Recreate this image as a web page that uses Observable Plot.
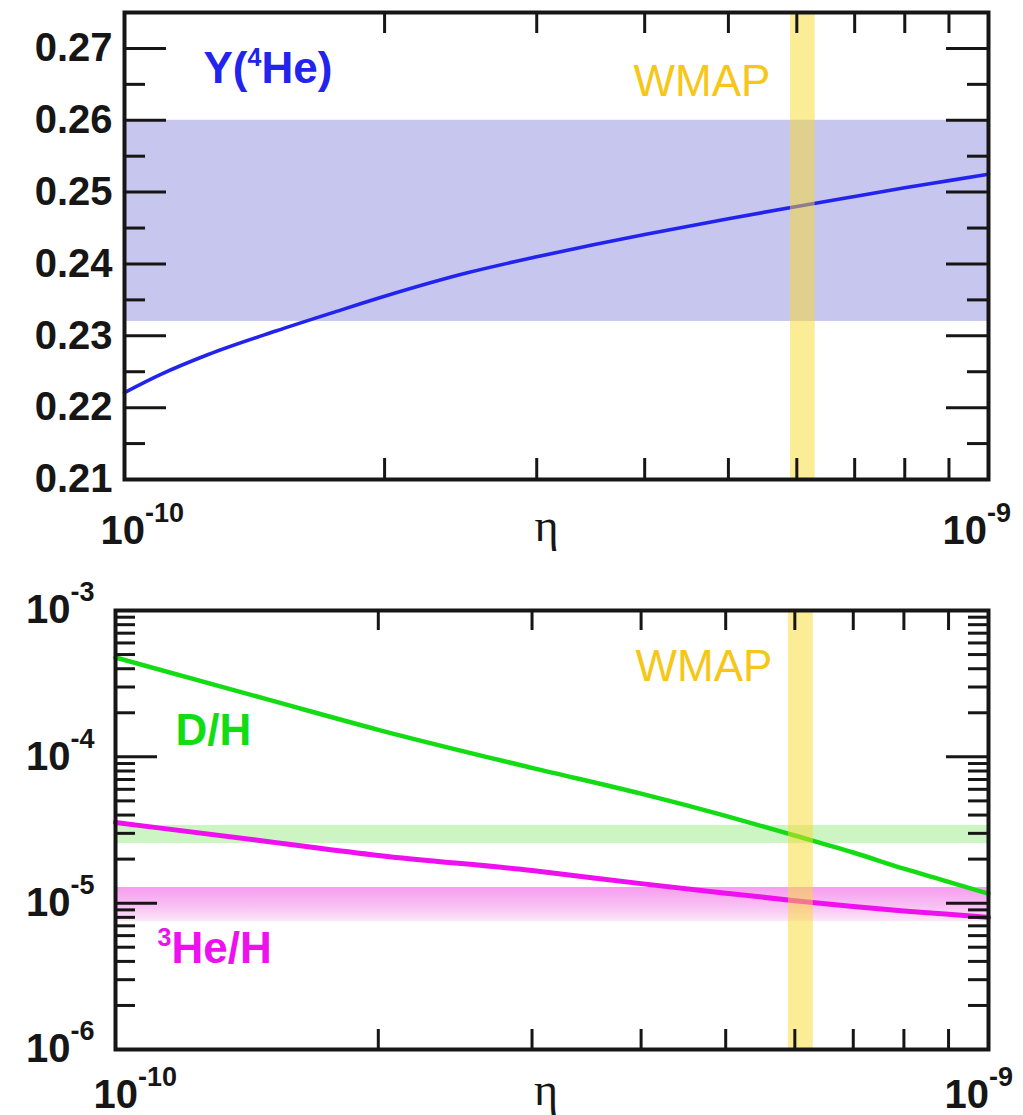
<!DOCTYPE html>
<html>
<head>
<meta charset="utf-8">
<script src="https://cdn.jsdelivr.net/npm/d3@7"></script>
<script src="https://cdn.jsdelivr.net/npm/@observablehq/plot@0.6"></script>
<style>
  html, body { margin: 0; padding: 0; background: #fff; }
  #chart { width: 1023px; }
  #chart svg { display: block; }
</style>
</head>
<body>
<div id="chart"></div>
<script>
// ---------------- data ----------------
const etaDomain = [1e-10, 1e-9];
const he4Domain = [0.21, 0.275];
const abundDomain = [1e-6, 1e-3];

// Top panel: Y(4He) vs eta
const etaTop = [1.0e-10, 1.1e-10, 1.25e-10, 1.5e-10, 1.75e-10, 2e-10, 2.5e-10, 3e-10, 3.5e-10, 4e-10, 5e-10, 6e-10, 7e-10, 8e-10, 9e-10, 1e-9];
const yHe4   = [0.2221, 0.2246, 0.2274, 0.2307, 0.2333, 0.2355, 0.2388, 0.2410, 0.2427, 0.2441, 0.2463, 0.2480, 0.2494, 0.2506, 0.2516, 0.2525];

// Bottom panel: D/H and 3He/H vs eta
const etaBottom = [1e-10, 1.5e-10, 2e-10, 3e-10, 4e-10, 5e-10, 6e-10, 7e-10, 8e-10, 9e-10, 1e-9];
const dH   = [4.77e-4, 2.45e-4, 1.53e-4, 8.4e-5, 5.6e-5, 3.95e-5, 2.9e-5, 2.22e-5, 1.72e-5, 1.4e-5, 1.16e-5];
const he3H = [3.56e-5, 2.63e-5, 2.12e-5, 1.67e-5, 1.36e-5, 1.17e-5, 1.04e-5, 9.5e-6, 8.85e-6, 8.4e-6, 7.98e-6];

// observational bands
const he4Band  = [0.232, 0.260];
const dBand    = [2.55e-5, 3.4e-5];
const he3Band  = [7.5e-6, 1.28e-5];
const wmapBand = [5.9e-10, 6.3e-10];

// ticks & labels
const he4Major = [0.21, 0.22, 0.23, 0.24, 0.25, 0.26, 0.27];
const he4Minor = [0.215, 0.225, 0.235, 0.245, 0.255, 0.265];
const etaLabelsLeft  = [{eta: 1e-10, label: "10^{-10}"}];
const etaLabelsRight = [{eta: 1e-9,  label: "10^{-9}"}];
const abundMajor = [1e-6, 1e-5, 1e-4, 1e-3];
const abundLabels = ["10^{-6}", "10^{-5}", "10^{-4}", "10^{-3}"];

// ---------------- styles ----------------
const INK = "#161616";
const BLUE = "#2323ee", GREEN = "#14dc14", MAGENTA = "#ee10ee", GOLD = "#f6c718";
const BAND_BLUE = "#c6c6ee", BAND_GREEN = "#cdf5c3", WMAP_FILL = "#f9d92c";
const SANS = "'Liberation Sans', Arial, Helvetica, sans-serif";
const W = 1023;

const etaTicks = d3.scaleLog().domain(etaDomain).ticks().filter(t => t > etaDomain[0] * 1.01 && t < etaDomain[1] * 0.99);
const abundTicksAll = d3.scaleLog().domain(abundDomain).ticks();
const abundMinor = abundTicksAll.filter(t => !abundMajor.some(m => Math.abs(t / m - 1) < 1e-6));

function tickMarks(innerW, innerH, majorY, minorY, majorLen, minorLen) {
  const s = {stroke: INK, strokeWidth: 3};
  return [
    Plot.tickY(majorY, {y: d => d, insetRight: innerW - majorLen, ...s}),
    Plot.tickY(majorY, {y: d => d, insetLeft: innerW - majorLen, ...s}),
    Plot.tickY(minorY, {y: d => d, insetRight: innerW - minorLen, ...s}),
    Plot.tickY(minorY, {y: d => d, insetLeft: innerW - minorLen, ...s}),
    Plot.tickX(etaTicks, {x: d => d, insetBottom: innerH - minorLen, ...s}),
    Plot.tickX(etaTicks, {x: d => d, insetTop: innerH - minorLen, ...s})
  ];
}

// turn "a^{b}c" into tspans with a raised, smaller b
function applySup(svg) {
  d3.select(svg).selectAll("text").each(function () {
    const s = this.textContent;
    if (!s.includes("^{")) return;
    const big = this.closest("g") && parseFloat(this.closest("g").getAttribute("font-size")) >= 42;
    const supSize = big ? 25 : 27;
    const raise = big ? 17 : 22;
    const el = d3.select(this);
    el.text(null);
    const parts = s.split(/\^\{([^}]*)\}/);
    let up = false;
    parts.forEach((p, i) => {
      const sup = i % 2 === 1;
      if (p === "") return;
      const t = el.append("tspan").text(p);
      if (sup) {
        t.attr("font-size", supSize);
        if (!up) { t.attr("dy", -raise); up = true; }
      } else if (up) {
        t.attr("dy", raise); up = false;
      }
    });
  });
}

// ---------------- top panel ----------------
const T = {h: 555, ml: 124, mr: 35, mt: 12, mb: 76};
const tW = W - T.ml - T.mr, tH = T.h - T.mt - T.mb;

const topPlot = Plot.plot({
  width: W, height: T.h,
  marginLeft: T.ml, marginRight: T.mr, marginTop: T.mt, marginBottom: T.mb,
  x: {type: "log", domain: etaDomain, axis: null},
  y: {domain: he4Domain, axis: null},
  style: {fontFamily: SANS, background: "white", color: INK},
  marks: [
    Plot.rect([he4Band], {y1: d => d[0], y2: d => d[1], fill: BAND_BLUE}),
    Plot.line(etaTop.map((e, i) => ({eta: e, v: yHe4[i]})), {x: "eta", y: "v", stroke: BLUE, strokeWidth: 3.6, curve: "monotone-x"}),
    Plot.rect([wmapBand], {x1: d => d[0], x2: d => d[1], fill: WMAP_FILL, fillOpacity: 0.5}),
    ...tickMarks(tW, tH, he4Major, he4Minor, 42, 21),
    Plot.frame({stroke: INK, strokeWidth: 4}),
    Plot.text(he4Major, {y: d => d, frameAnchor: "left", textAnchor: "end", dx: -12, text: d => d.toFixed(2), fontSize: 40, fontWeight: "bold", fill: INK}),
    Plot.text(etaLabelsLeft, {x: "eta", frameAnchor: "bottom", textAnchor: "start", lineAnchor: "bottom", dx: -24, dy: 64, text: "label", fontSize: 40, fontWeight: "bold", fill: INK}),
    Plot.text(etaLabelsRight, {x: "eta", frameAnchor: "bottom", textAnchor: "start", lineAnchor: "bottom", dx: -46, dy: 64, text: "label", fontSize: 40, fontWeight: "bold", fill: INK}),
    Plot.text(["η"], {frameAnchor: "bottom", textAnchor: "middle", lineAnchor: "bottom", dx: -10, dy: 61, text: d => d, fontSize: 46, fontFamily: "'Liberation Serif', 'Times New Roman', serif", fill: INK}),
    Plot.text(["Y(^{4}He)"], {frameAnchor: "top-left", textAnchor: "start", lineAnchor: "bottom", dx: 79, dy: 70, text: d => d, fontSize: 44, fontWeight: "bold", fill: BLUE}),
    Plot.text(["WMAP"], {frameAnchor: "top-left", textAnchor: "start", lineAnchor: "bottom", dx: 509, dy: 83, text: d => d, fontSize: 44, fill: GOLD})
  ]
});

// ---------------- bottom panel ----------------
const B = {h: 560, ml: 115, mr: 35, mt: 55, mb: 66};
const bW = W - B.ml - B.mr, bH = B.h - B.mt - B.mb;

const gradientDefs = () => {
  const defs = d3.create("svg:defs");
  const g = defs.append("linearGradient").attr("id", "he3-grad")
    .attr("x1", 0).attr("y1", 0).attr("x2", 0).attr("y2", 1);
  g.append("stop").attr("offset", "0%").attr("stop-color", "#f69def");
  g.append("stop").attr("offset", "55%").attr("stop-color", "#f8bff3");
  g.append("stop").attr("offset", "100%").attr("stop-color", "#fbe6f9");
  return defs.node();
};

const bottomPlot = Plot.plot({
  width: W, height: B.h,
  marginLeft: B.ml, marginRight: B.mr, marginTop: B.mt, marginBottom: B.mb,
  x: {type: "log", domain: etaDomain, axis: null},
  y: {type: "log", domain: abundDomain, axis: null},
  style: {fontFamily: SANS, background: "white", color: INK},
  marks: [
    gradientDefs,
    Plot.rect([dBand], {y1: d => d[0], y2: d => d[1], fill: BAND_GREEN}),
    Plot.rect([he3Band], {y1: d => d[0], y2: d => d[1], fill: "url(#he3-grad)"}),
    Plot.line(etaBottom.map((e, i) => ({eta: e, v: dH[i]})), {x: "eta", y: "v", stroke: GREEN, strokeWidth: 4.5, curve: "monotone-x"}),
    Plot.line(etaBottom.map((e, i) => ({eta: e, v: he3H[i]})), {x: "eta", y: "v", stroke: MAGENTA, strokeWidth: 5, curve: "monotone-x"}),
    Plot.rect([wmapBand], {x1: d => d[0], x2: d => d[1], fill: WMAP_FILL, fillOpacity: 0.5}),
    ...tickMarks(bW, bH, abundMajor, abundMinor, 42, 20),
    Plot.frame({stroke: INK, strokeWidth: 4}),
    Plot.text(abundMajor, {y: d => d, frameAnchor: "left", textAnchor: "end", dx: -21, text: (d, i) => abundLabels[i], fontSize: 40, fontWeight: "bold", fill: INK}),
    Plot.text(etaLabelsLeft, {x: "eta", frameAnchor: "bottom", textAnchor: "start", lineAnchor: "bottom", dx: -22, dy: 58, text: "label", fontSize: 40, fontWeight: "bold", fill: INK}),
    Plot.text(etaLabelsRight, {x: "eta", frameAnchor: "bottom", textAnchor: "start", lineAnchor: "bottom", dx: -44, dy: 58, text: "label", fontSize: 40, fontWeight: "bold", fill: INK}),
    Plot.text(["η"], {frameAnchor: "bottom", textAnchor: "middle", lineAnchor: "bottom", dx: -6, dy: 55, text: d => d, fontSize: 46, fontFamily: "'Liberation Serif', 'Times New Roman', serif", fill: INK}),
    Plot.text(["WMAP"], {frameAnchor: "top-left", textAnchor: "start", lineAnchor: "bottom", dx: 520, dy: 70, text: d => d, fontSize: 44, fill: GOLD}),
    Plot.text(["D/H"], {frameAnchor: "top-left", textAnchor: "start", lineAnchor: "bottom", dx: 60, dy: 134, text: d => d, fontSize: 44, fontWeight: "bold", fill: GREEN}),
    Plot.text(["^{3}He/H"], {frameAnchor: "top-left", textAnchor: "start", lineAnchor: "bottom", dx: 42, dy: 352, text: d => d, fontSize: 44, fontWeight: "bold", fill: MAGENTA})
  ]
});

applySup(topPlot);
applySup(bottomPlot);
const root = document.getElementById("chart");
root.appendChild(topPlot);
root.appendChild(bottomPlot);
</script>
</body>
</html>
